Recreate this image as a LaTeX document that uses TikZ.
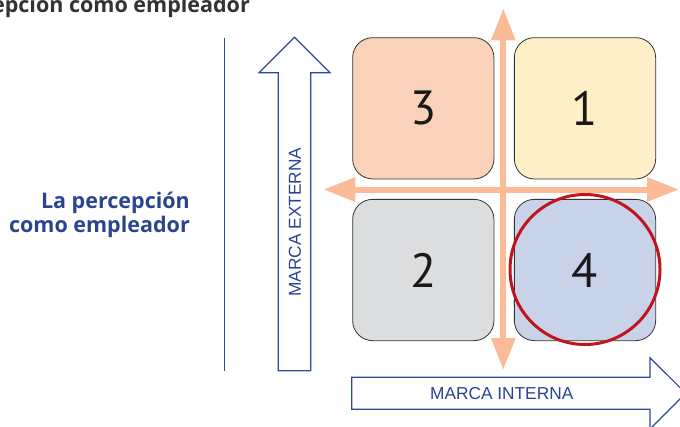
\documentclass[tikz,border=0pt]{standalone}
\usepackage{fontspec}
\setmainfont{Open Sans}
\newfontfamily\dinfont{PT Sans}
\newfontfamily\lblfont{Liberation Sans}
\usetikzlibrary{arrows.meta}
\definecolor{navy}{HTML}{2E4A9B}
\definecolor{navytext}{HTML}{2B4490}
\definecolor{peach}{HTML}{FAD2B9}
\definecolor{cream}{HTML}{FDEFC8}
\definecolor{greybox}{HTML}{DCDDDF}
\definecolor{bluebox}{HTML}{C8D3EA}
\definecolor{axisorange}{HTML}{FBBB96}
\definecolor{ringred}{HTML}{C0141E}
\definecolor{titlegrey}{HTML}{333333}
\tikzset{
  quad/.style={draw=black!80, line width=0.8pt, rounded corners=20pt,
    minimum width=141.3pt, minimum height=141.3pt, inner sep=0pt,
    font=\dinfont\fontsize{48}{48}\selectfont, text=black!90},
  axis/.style={draw=axisorange, line width=6pt,
    {Triangle[length=32pt,width=23pt]}-{Triangle[length=32pt,width=23pt]}},
  bigarrow/.style={draw=navy, line width=1.2pt, fill=white, line join=miter},
  lbl/.style={font=\lblfont\fontsize{17.3}{17.3}\selectfont, text=navytext, inner sep=0pt},
  sidetext/.style={anchor=base east, inner sep=0pt, font=\bfseries\fontsize{21.5}{24}\selectfont, text=navytext},
}
\begin{document}
\begin{tikzpicture}[x=1pt,y=-1pt]
\useasboundingbox (0,0) rectangle (680,426);
\clip (0,0) rectangle (680,426);
% title (cut off at the top left, as in the reference)
\node[anchor=base east, inner sep=0pt, font=\bfseries\fontsize{21.5}{21.5}\selectfont, text=titlegrey] (title) at (250,12) {La percepción como empleador};
% left label
\node[sidetext] (side1) at (190,208) {La percepción};
\node[sidetext] (side2) at (190,232) {como empleador};
% vertical rule
\coordinate (ruletop) at (224.3,37.7);
\coordinate (rulebot) at (224.3,370.7);
\draw[navy, line width=1.5pt] (ruletop) -- (rulebot);
% MARCA EXTERNA arrow
\draw[bigarrow] (278.3,370.7) -- (278.3,72.7) -- (259,72.7) -- (294.5,37.2) -- (330,72.7) -- (310.7,72.7) -- (310.7,370.7) -- cycle;
\node[lbl, rotate=90] (ext) at (295,222) {MARCA EXTERNA};
% MARCA INTERNA arrow
\draw[bigarrow] (351.7,377.3) -- (650,377.3) -- (650,357.7) -- (685.7,393.3) -- (650,429) -- (650,409.3) -- (351.7,409.3) -- cycle;
\node[lbl] (int) at (501.7,393.3) {MARCA INTERNA};
% quadrants
\node[quad, fill=peach] (q3) at (423.3,108.3) {3};
\node[quad, fill=cream] (q1) at (585,108.3) {1};
\node[quad, fill=greybox] (q2) at (423.3,270) {2};
\node[quad, fill=bluebox] (q4) at (585,270) {4};
% axes
\coordinate (vtop) at (503.3,8.3);
\coordinate (vbot) at (503.3,370);
\coordinate (hleft) at (323.3,189.5);
\coordinate (hright) at (679,189.5);
\draw[axis] (vtop) -- (vbot);
\draw[axis] (hleft) -- (hright);
% red ring
\draw[ringred, line width=3pt] (q4.center) ++(0,-0.5) circle[radius=75];
\end{tikzpicture}
\end{document}
